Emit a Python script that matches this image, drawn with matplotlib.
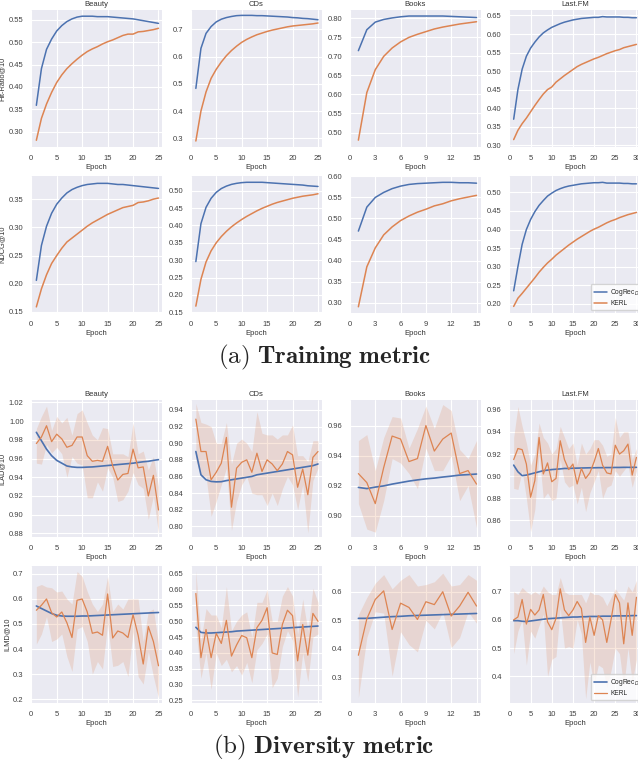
import numpy as np
import matplotlib
matplotlib.use('Agg')
import matplotlib.pyplot as plt
from matplotlib.ticker import MultipleLocator
import seaborn as sns

datasets = ['Beauty', 'CDs', 'Books', 'Last.FM']
n_epochs = [25, 25, 15, 30]

# ---- training metrics: Hit-Ratio@10 ----
beauty_hr_cog = [0.359, 0.441, 0.484, 0.507, 0.525, 0.537, 0.546, 0.552, 0.556, 0.558, 0.558, 0.558, 0.557,
                 0.557, 0.557, 0.556, 0.555, 0.554, 0.553, 0.552, 0.550, 0.548, 0.546, 0.544, 0.542]
beauty_hr_kerl = [0.281, 0.330, 0.362, 0.388, 0.410, 0.427, 0.441, 0.452, 0.462, 0.471, 0.479, 0.485, 0.490,
                  0.496, 0.501, 0.505, 0.510, 0.515, 0.518, 0.518, 0.523, 0.524, 0.526, 0.528, 0.531]
cds_hr_cog = [0.483, 0.630, 0.685, 0.710, 0.727, 0.737, 0.743, 0.747, 0.750, 0.751, 0.751, 0.751, 0.750,
              0.750, 0.749, 0.748, 0.747, 0.746, 0.745, 0.743, 0.742, 0.740, 0.739, 0.737, 0.735]
cds_hr_kerl = [0.290, 0.400, 0.470, 0.520, 0.553, 0.580, 0.603, 0.622, 0.638, 0.652, 0.663, 0.672, 0.680,
               0.686, 0.692, 0.697, 0.701, 0.705, 0.709, 0.712, 0.714, 0.716, 0.718, 0.720, 0.723]
books_hr_cog = [0.715, 0.770, 0.790, 0.797, 0.801, 0.804, 0.806, 0.806, 0.806, 0.806, 0.806, 0.805, 0.804,
                0.803, 0.802]
books_hr_kerl = [0.480, 0.605, 0.665, 0.700, 0.722, 0.738, 0.750, 0.758, 0.765, 0.772, 0.777, 0.781, 0.785,
                 0.788, 0.791]
lastfm_hr_cog = [0.370, 0.450, 0.505, 0.540, 0.562, 0.578, 0.592, 0.603, 0.611, 0.618, 0.623, 0.628, 0.632,
                 0.635, 0.638, 0.640, 0.642, 0.643, 0.644, 0.645, 0.645, 0.647, 0.646, 0.646, 0.646, 0.646,
                 0.645, 0.645, 0.644, 0.644]
lastfm_hr_kerl = [0.315, 0.340, 0.358, 0.373, 0.390, 0.407, 0.423, 0.438, 0.450, 0.457, 0.470, 0.479, 0.488,
                  0.496, 0.504, 0.512, 0.518, 0.523, 0.528, 0.533, 0.537, 0.542, 0.547, 0.551, 0.555, 0.558,
                  0.563, 0.566, 0.569, 0.572]

# ---- training metrics: NDCG@10 ----
beauty_ndcg_cog = [0.206, 0.268, 0.302, 0.325, 0.341, 0.352, 0.361, 0.367, 0.371, 0.374, 0.376, 0.377, 0.378,
                   0.378, 0.378, 0.377, 0.376, 0.376, 0.375, 0.374, 0.373, 0.372, 0.371, 0.370, 0.369]
beauty_ndcg_kerl = [0.159, 0.191, 0.216, 0.236, 0.250, 0.263, 0.274, 0.281, 0.288, 0.295, 0.302, 0.308, 0.313,
                    0.318, 0.323, 0.327, 0.331, 0.335, 0.337, 0.339, 0.344, 0.345, 0.347, 0.350, 0.352]
cds_ndcg_cog = [0.296, 0.405, 0.452, 0.478, 0.495, 0.506, 0.513, 0.518, 0.521, 0.523, 0.524, 0.524, 0.524,
                0.524, 0.523, 0.522, 0.521, 0.520, 0.519, 0.518, 0.517, 0.516, 0.514, 0.513, 0.512]
cds_ndcg_kerl = [0.168, 0.245, 0.295, 0.327, 0.350, 0.368, 0.383, 0.396, 0.407, 0.417, 0.426, 0.434, 0.442,
                 0.449, 0.455, 0.461, 0.466, 0.470, 0.474, 0.478, 0.481, 0.484, 0.486, 0.488, 0.491]
books_ndcg_cog = [0.470, 0.527, 0.550, 0.562, 0.571, 0.577, 0.581, 0.583, 0.584, 0.585, 0.586, 0.586, 0.585,
                  0.585, 0.584]
books_ndcg_kerl = [0.290, 0.385, 0.430, 0.461, 0.480, 0.495, 0.506, 0.515, 0.522, 0.530, 0.535, 0.542, 0.547,
                   0.551, 0.555]
lastfm_ndcg_cog = [0.235, 0.300, 0.360, 0.400, 0.427, 0.448, 0.465, 0.478, 0.490, 0.498, 0.505, 0.510, 0.514,
                   0.517, 0.519, 0.521, 0.523, 0.524, 0.525, 0.526, 0.526, 0.527, 0.525, 0.525, 0.525, 0.525,
                   0.524, 0.524, 0.523, 0.523]
lastfm_ndcg_kerl = [0.193, 0.215, 0.228, 0.242, 0.256, 0.270, 0.285, 0.298, 0.310, 0.320, 0.331, 0.340, 0.349,
                    0.358, 0.366, 0.374, 0.381, 0.388, 0.395, 0.401, 0.406, 0.412, 0.418, 0.423, 0.427, 0.432,
                    0.436, 0.440, 0.443, 0.446]

# ---- diversity metrics: ILAD@10 ----
beauty_ilad_cog = [0.988, 0.979, 0.970, 0.963, 0.958, 0.955, 0.952, 0.951, 0.9505, 0.9505, 0.9508, 0.951, 0.9515,
                   0.952, 0.9525, 0.953, 0.9535, 0.954, 0.9545, 0.955, 0.9558, 0.9565, 0.957, 0.958, 0.9588]
beauty_ilad_kerl = [0.976, 0.983, 0.995, 0.978, 0.986, 0.981, 0.972, 0.974, 0.983, 0.983, 0.963, 0.957, 0.958,
                    0.957, 0.973, 0.952, 0.937, 0.943, 0.944, 0.970, 0.950, 0.951, 0.920, 0.942, 0.905]
beauty_ilad_hi = [0.992, 1.005, 1.016, 0.990, 1.005, 0.998, 1.004, 0.985, 1.008, 1.012, 0.998, 0.985, 0.980,
                  0.993, 0.992, 0.965, 0.965, 0.965, 0.962, 0.998, 0.965, 0.968, 0.948, 0.962, 0.930]
beauty_ilad_lo = [0.955, 0.954, 0.975, 0.966, 0.972, 0.965, 0.940, 0.962, 0.955, 0.953, 0.918, 0.918, 0.935,
                  0.925, 0.950, 0.940, 0.914, 0.916, 0.925, 0.945, 0.932, 0.928, 0.895, 0.920, 0.880]
cds_ilad_cog = [0.890, 0.862, 0.856, 0.854, 0.8535, 0.8537, 0.855, 0.856, 0.857, 0.858, 0.859, 0.860, 0.862,
                0.863, 0.864, 0.865, 0.866, 0.867, 0.868, 0.869, 0.870, 0.871, 0.872, 0.873, 0.875]
cds_ilad_kerl = [0.929, 0.890, 0.890, 0.856, 0.865, 0.876, 0.907, 0.823, 0.870, 0.877, 0.880, 0.865, 0.888,
                 0.866, 0.880, 0.875, 0.867, 0.875, 0.890, 0.886, 0.847, 0.869, 0.838, 0.883, 0.890]
cds_ilad_hi = [0.948, 0.925, 0.923, 0.920, 0.900, 0.900, 0.925, 0.875, 0.900, 0.905, 0.900, 0.890, 0.938,
               0.912, 0.910, 0.910, 0.905, 0.910, 0.910, 0.922, 0.885, 0.885, 0.878, 0.903, 0.903]
cds_ilad_lo = [0.880, 0.860, 0.860, 0.812, 0.830, 0.850, 0.870, 0.795, 0.830, 0.850, 0.860, 0.840, 0.838,
               0.838, 0.825, 0.840, 0.825, 0.845, 0.860, 0.850, 0.820, 0.850, 0.792, 0.855, 0.870]
books_ilad_cog = [0.9188, 0.918, 0.919, 0.9198, 0.921, 0.922, 0.923, 0.9238, 0.9245, 0.925, 0.9257, 0.9263,
                  0.927, 0.9273, 0.9277]
books_ilad_kerl = [0.928, 0.922, 0.908, 0.932, 0.953, 0.951, 0.936, 0.938, 0.960, 0.943, 0.951, 0.955, 0.928,
                   0.930, 0.921]
books_ilad_hi = [0.950, 0.954, 0.930, 0.952, 0.966, 0.965, 0.945, 0.958, 0.973, 0.958, 0.974, 0.970, 0.944,
                 0.938, 0.950]
books_ilad_lo = [0.908, 0.891, 0.889, 0.910, 0.938, 0.935, 0.928, 0.918, 0.945, 0.930, 0.930, 0.940, 0.910,
                 0.920, 0.892]
lastfm_ilad_cog = [0.910, 0.904, 0.9005, 0.901, 0.902, 0.903, 0.904, 0.905, 0.9055, 0.906, 0.9063, 0.9066,
                   0.907, 0.907, 0.9072, 0.9073, 0.9074, 0.9075, 0.9076, 0.9076, 0.9077, 0.9077, 0.9078,
                   0.9078, 0.9079, 0.9079, 0.908, 0.908, 0.908, 0.908]
lastfm_ilad_kerl = [0.915, 0.925, 0.924, 0.911, 0.881, 0.896, 0.935, 0.902, 0.912, 0.895, 0.898, 0.932, 0.915,
                    0.906, 0.911, 0.893, 0.907, 0.898, 0.903, 0.913, 0.925, 0.910, 0.903, 0.902, 0.928, 0.920,
                    0.923, 0.929, 0.901, 0.917]
lastfm_ilad_hi = [0.935, 0.963, 0.945, 0.930, 0.910, 0.920, 0.948, 0.935, 0.930, 0.920, 0.925, 0.945, 0.935,
                  0.925, 0.930, 0.910, 0.930, 0.920, 0.925, 0.933, 0.933, 0.928, 0.918, 0.920, 0.953, 0.935,
                  0.940, 0.940, 0.915, 0.925]
lastfm_ilad_lo = [0.889, 0.888, 0.905, 0.880, 0.850, 0.870, 0.920, 0.880, 0.885, 0.878, 0.880, 0.915, 0.895,
                  0.890, 0.892, 0.875, 0.890, 0.868, 0.885, 0.895, 0.905, 0.880, 0.890, 0.892, 0.905, 0.900,
                  0.905, 0.910, 0.890, 0.905]

# ---- diversity metrics: ILMD@10 ----
beauty_ilmd_cog = [0.572, 0.562, 0.552, 0.542, 0.535, 0.532, 0.531, 0.531, 0.531, 0.532, 0.532, 0.533, 0.534,
                   0.535, 0.536, 0.537, 0.538, 0.539, 0.540, 0.541, 0.542, 0.543, 0.544, 0.545, 0.546]
beauty_ilmd_kerl = [0.555, 0.575, 0.600, 0.545, 0.528, 0.548, 0.505, 0.446, 0.595, 0.600, 0.548, 0.463, 0.468,
                    0.455, 0.620, 0.444, 0.472, 0.464, 0.446, 0.537, 0.455, 0.340, 0.490, 0.430, 0.333]
beauty_ilmd_hi = [0.650, 0.658, 0.648, 0.645, 0.628, 0.632, 0.600, 0.580, 0.710, 0.690, 0.630, 0.580, 0.550,
                  0.580, 0.690, 0.550, 0.580, 0.560, 0.600, 0.600, 0.600, 0.430, 0.550, 0.560, 0.420]
beauty_ilmd_lo = [0.420, 0.460, 0.530, 0.430, 0.440, 0.460, 0.370, 0.310, 0.480, 0.490, 0.430, 0.300, 0.350,
                  0.320, 0.500, 0.330, 0.335, 0.350, 0.290, 0.470, 0.290, 0.260, 0.390, 0.290, 0.205]
cds_ilmd_cog = [0.481, 0.465, 0.463, 0.463, 0.464, 0.465, 0.466, 0.467, 0.469, 0.470, 0.471, 0.472, 0.473,
                0.474, 0.475, 0.476, 0.477, 0.478, 0.479, 0.480, 0.481, 0.482, 0.483, 0.484, 0.485]
cds_ilmd_kerl = [0.588, 0.385, 0.474, 0.385, 0.462, 0.430, 0.503, 0.390, 0.425, 0.455, 0.448, 0.385, 0.480,
                 0.503, 0.543, 0.400, 0.395, 0.490, 0.535, 0.518, 0.375, 0.490, 0.393, 0.525, 0.500]
cds_ilmd_hi = [0.660, 0.440, 0.540, 0.520, 0.520, 0.480, 0.610, 0.470, 0.500, 0.520, 0.530, 0.450, 0.560,
               0.560, 0.600, 0.500, 0.500, 0.580, 0.610, 0.580, 0.460, 0.570, 0.470, 0.605, 0.560]
cds_ilmd_lo = [0.480, 0.320, 0.400, 0.285, 0.400, 0.360, 0.380, 0.340, 0.360, 0.330, 0.370, 0.305, 0.410,
               0.430, 0.460, 0.290, 0.320, 0.420, 0.470, 0.440, 0.260, 0.400, 0.310, 0.450, 0.460]
books_ilmd_cog = [0.507, 0.507, 0.509, 0.511, 0.513, 0.514, 0.516, 0.517, 0.518, 0.519, 0.520, 0.521, 0.522,
                  0.523, 0.524]
books_ilmd_kerl = [0.378, 0.505, 0.573, 0.603, 0.468, 0.560, 0.545, 0.503, 0.565, 0.555, 0.600, 0.515, 0.550,
                   0.598, 0.550]
books_ilmd_hi = [0.520, 0.580, 0.630, 0.660, 0.610, 0.640, 0.660, 0.620, 0.625, 0.635, 0.665, 0.620, 0.625,
                 0.660, 0.640]
books_ilmd_lo = [0.230, 0.440, 0.530, 0.525, 0.305, 0.460, 0.415, 0.390, 0.500, 0.470, 0.530, 0.405, 0.440,
                 0.530, 0.490]
lastfm_ilmd_cog = [0.597, 0.597, 0.595, 0.594, 0.596, 0.598, 0.600, 0.602, 0.604, 0.605, 0.606, 0.607, 0.608,
                   0.609, 0.610, 0.610, 0.611, 0.611, 0.612, 0.612, 0.612, 0.613, 0.613, 0.613, 0.614, 0.614,
                   0.614, 0.614, 0.615, 0.615]
lastfm_ilmd_kerl = [0.600, 0.610, 0.672, 0.585, 0.637, 0.617, 0.635, 0.690, 0.593, 0.565, 0.605, 0.710, 0.635,
                    0.615, 0.635, 0.665, 0.640, 0.520, 0.610, 0.545, 0.615, 0.600, 0.520, 0.600, 0.690, 0.660,
                    0.515, 0.660, 0.545, 0.680]
lastfm_ilmd_hi = [0.700, 0.690, 0.715, 0.700, 0.690, 0.700, 0.690, 0.720, 0.700, 0.690, 0.690, 0.750, 0.700,
                  0.690, 0.690, 0.690, 0.690, 0.660, 0.700, 0.690, 0.690, 0.680, 0.650, 0.680, 0.710, 0.690,
                  0.670, 0.720, 0.700, 0.740]
lastfm_ilmd_lo = [0.480, 0.560, 0.600, 0.440, 0.560, 0.535, 0.580, 0.620, 0.400, 0.460, 0.470, 0.640, 0.500,
                  0.505, 0.500, 0.600, 0.550, 0.320, 0.450, 0.370, 0.440, 0.430, 0.360, 0.420, 0.500, 0.480,
                  0.360, 0.500, 0.380, 0.460]

train_rows = [
    ('Hit-Ratio@10', [(beauty_hr_cog, beauty_hr_kerl), (cds_hr_cog, cds_hr_kerl),
                      (books_hr_cog, books_hr_kerl), (lastfm_hr_cog, lastfm_hr_kerl)]),
    ('NDCG@10', [(beauty_ndcg_cog, beauty_ndcg_kerl), (cds_ndcg_cog, cds_ndcg_kerl),
                 (books_ndcg_cog, books_ndcg_kerl), (lastfm_ndcg_cog, lastfm_ndcg_kerl)]),
]
div_rows = [
    ('ILAD@10', [(beauty_ilad_cog, beauty_ilad_kerl, beauty_ilad_lo, beauty_ilad_hi),
                 (cds_ilad_cog, cds_ilad_kerl, cds_ilad_lo, cds_ilad_hi),
                 (books_ilad_cog, books_ilad_kerl, books_ilad_lo, books_ilad_hi),
                 (lastfm_ilad_cog, lastfm_ilad_kerl, lastfm_ilad_lo, lastfm_ilad_hi)]),
    ('ILMD@10', [(beauty_ilmd_cog, beauty_ilmd_kerl, beauty_ilmd_lo, beauty_ilmd_hi),
                 (cds_ilmd_cog, cds_ilmd_kerl, cds_ilmd_lo, cds_ilmd_hi),
                 (books_ilmd_cog, books_ilmd_kerl, books_ilmd_lo, books_ilmd_hi),
                 (lastfm_ilmd_cog, lastfm_ilmd_kerl, lastfm_ilmd_lo, lastfm_ilmd_hi)]),
]

# axis ranges and y tick steps (rows: HR, NDCG, ILAD, ILMD)
ylims = [
    [(0.266, 0.572), (0.268, 0.771), (0.462, 0.822), (0.295, 0.665)],
    [(0.148, 0.391), (0.148, 0.542), (0.275, 0.601), (0.175, 0.544)],
    [(0.876, 1.0225), (0.787, 0.952), (0.8857, 0.977), (0.845, 0.9688)],
    [(0.184, 0.732), (0.2415, 0.675), (0.211, 0.69), (0.305, 0.791)],
]
ytick_steps = [
    [0.05, 0.1, 0.05, 0.05],
    [0.05, 0.05, 0.05, 0.05],
    [0.02, 0.02, 0.02, 0.02],
    [0.1, 0.05, 0.1, 0.1],
]
xlims = [25.7, 25.7, 15.5, 30.9]
xtick_step = [5, 5, 3, 5]

sns.set_style('darkgrid', {'grid.linewidth': 1.3})
plt.rcParams['font.family'] = ['Liberation Sans', 'DejaVu Sans']
blue, orange = '#4C72B0', '#DD8452'

fig = plt.figure(figsize=(6.38, 7.64), dpi=100)
lefts = [0.049, 0.299, 0.5485, 0.7985]
tops = [0.987, 0.7696, 0.4764, 0.2592]
w, h = 0.205, 0.1794


def style_axis(ax, col, row, ylabel, title):
    ax.set_xlim(0, xlims[col])
    ax.set_ylim(*ylims[row][col])
    ax.set_xticks(range(0, n_epochs[col] + 1, xtick_step[col]))
    ax.yaxis.set_major_locator(MultipleLocator(ytick_steps[row][col]))
    ax.tick_params(labelsize=5.5, pad=2, colors='0.25')
    ax.set_xlabel('Epoch', fontsize=5.5, labelpad=1.5, color='0.2')
    if col == 0:
        ax.set_ylabel(ylabel, fontsize=5.3, labelpad=2, color='0.2')
    if title:
        ax.set_title(datasets[col], fontsize=5.5, pad=3, color='0.2')
    for s in ax.spines.values():
        s.set_visible(False)


def add_legend(ax):
    # the legend runs past the right edge of the picture, as in the cropped original
    ax.legend(loc='lower left', bbox_to_anchor=(0.62, 0.02), fontsize=4.8, handlelength=2.0,
              handletextpad=0.5, borderpad=0.45, labelspacing=0.35, borderaxespad=0,
              facecolor='white', edgecolor='0.8', framealpha=0.8)


for r, (ylabel, panels) in enumerate(train_rows):
    for c, (cog, kerl) in enumerate(panels):
        ax = fig.add_axes([lefts[c], tops[r] - h, w, h])
        x = np.arange(1, n_epochs[c] + 1)
        ax.plot(x, cog, color=blue, lw=1.1, label='CogRec$_{Div}$')
        ax.plot(x, kerl, color=orange, lw=1.1, label='KERL')
        style_axis(ax, c, r, ylabel, r == 0)
        if c == 3 and r == 1:
            add_legend(ax)

for r, (ylabel, panels) in enumerate(div_rows):
    rr = r + 2
    for c, (cog, kerl, lo, hi) in enumerate(panels):
        ax = fig.add_axes([lefts[c], tops[rr] - h, w, h])
        x = np.arange(1, n_epochs[c] + 1)
        ax.fill_between(x, lo, hi, color=orange, alpha=0.2, lw=0)
        ax.plot(x, cog, color=blue, lw=1.2, label='CogRec$_{Div}$')
        ax.plot(x, kerl, color=orange, lw=0.9, label='KERL')
        style_axis(ax, c, rr, ylabel, r == 0)
        if c == 3 and r == 1:
            add_legend(ax)

fig.text(0.508, 0.532, r'$\mathrm{(a)}\ \mathbf{Training\ metric}$', ha='center', va='center',
         fontsize=18, math_fontfamily='cm')
fig.text(0.508, 0.022, r'$\mathrm{(b)}\ \mathbf{Diversity\ metric}$', ha='center', va='center',
         fontsize=18, math_fontfamily='cm')

fig.savefig('out.png', dpi=100)
